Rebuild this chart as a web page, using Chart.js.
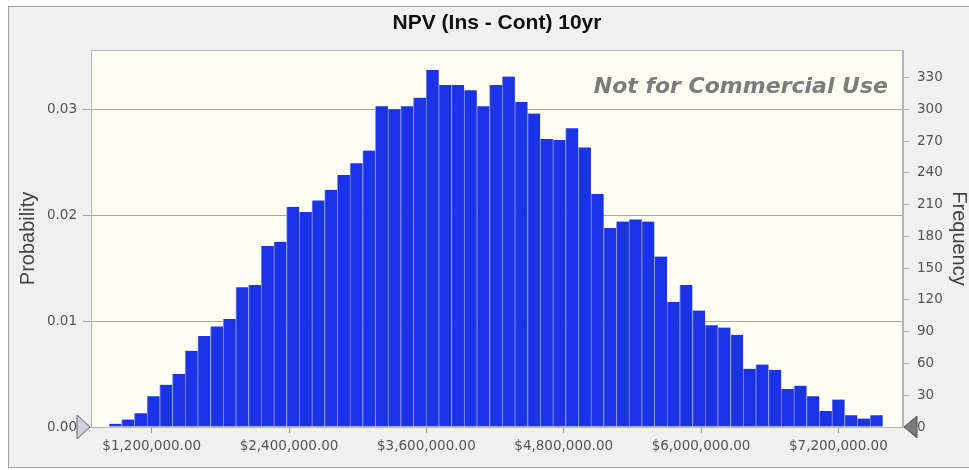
<!DOCTYPE html>
<html>
<head>
<meta charset="utf-8">
<script src="https://cdn.jsdelivr.net/npm/chart.js@4.4.1/dist/chart.umd.min.js"></script>
<style>
  html, body { margin: 0; padding: 0; background: #fff; }
  #wrap { width: 969px; height: 470px; }
</style>
</head>
<body>
<div id="wrap"><canvas id="npvChart" width="969" height="470"></canvas></div>
<script>
// Histogram bins (NPV in $): first bin edge and bin width
const binStart = 826850;
const binWidth = 110830;

// Frequency per bin (10,000 trials)
const frequencies = [
  3, 7, 13, 29, 40, 50, 72, 86, 95, 102,
  132, 134, 171, 175, 208, 203, 214, 224, 238, 249,
  261, 303, 300, 303, 311, 337, 323, 323, 318, 303,
  323, 331, 307, 296, 272, 271, 282, 264, 220, 188,
  194, 196, 194, 161, 118, 134, 110, 96, 94, 87,
  55, 59, 54, 36, 39, 29, 15, 26, 11, 8, 11
];
const trials = 10000;

// Axis ticks
const xTicks = [1200000, 2400000, 3600000, 4800000, 6000000, 7200000];
const probTicks = [0, 0.01, 0.02, 0.03];
const freqTicks = [0, 30, 60, 90, 120, 150, 180, 210, 240, 270, 300, 330];

const xMin = 669500, xMax = 7765000;
const freqMax = 356;

const tickFont = {family: 'DejaVu Sans', size: 13.5};
const labelColor = '#555';

function fmtMoney(v) {
    return '$' + v.toFixed(2).replace(/\B(?=(\d{3})+(?!\d))/g, ',');
}

const points = frequencies.map((f, i) => ({x: binStart + binWidth * (i + 0.5), y: f}));

// Frame, plot background, title, watermark and the two grabbers
const decorations = {
    id: 'decorations',
    beforeDraw(chart) {
        const {ctx, chartArea: a} = chart;
        ctx.save();
        ctx.fillStyle = '#fff';
        ctx.fillRect(0, 0, chart.width, chart.height);
        ctx.fillStyle = '#f0f0f0';
        ctx.fillRect(8, 6, chart.width - 8, 462);
        ctx.strokeStyle = '#a0a0a0';
        ctx.lineWidth = 1;
        ctx.strokeRect(8.5, 6.5, chart.width, 461);
        ctx.fillStyle = '#fefef3';
        ctx.fillRect(a.left, a.top, a.right - a.left, a.bottom - a.top);
        ctx.restore();
    },
    afterDatasetsDraw(chart) {
        const {ctx, chartArea: a} = chart;
        ctx.save();
        ctx.strokeStyle = '#b4b4b4';
        ctx.lineWidth = 1;
        ctx.strokeRect(a.left + 0.5, a.top + 0.5, a.right - a.left - 1, a.bottom - a.top);
        ctx.fillStyle = '#7c7c7c';
        ctx.font = 'italic bold 22px "DejaVu Sans"';
        ctx.textAlign = 'right';
        ctx.textBaseline = 'alphabetic';
        ctx.fillText('Not for Commercial Use', a.right - 15, 93);
        ctx.restore();
    },
    afterDraw(chart) {
        const {ctx, chartArea: a} = chart;
        ctx.save();
        ctx.fillStyle = '#111';
        ctx.font = 'bold 21px "Liberation Sans"';
        ctx.textAlign = 'center';
        ctx.textBaseline = 'alphabetic';
        ctx.fillText('NPV (Ins - Cont) 10yr', (a.left + a.right) / 2, 29);

        // left grabber
        ctx.beginPath();
        ctx.moveTo(a.left - 14, a.bottom - 12);
        ctx.lineTo(a.left - 1, a.bottom);
        ctx.lineTo(a.left - 14, a.bottom + 12);
        ctx.closePath();
        ctx.fillStyle = '#cfcfdc';
        ctx.fill();
        ctx.strokeStyle = '#666';
        ctx.stroke();
        // right grabber
        ctx.beginPath();
        ctx.moveTo(a.right + 14, a.bottom - 11);
        ctx.lineTo(a.right + 1, a.bottom);
        ctx.lineTo(a.right + 14, a.bottom + 11);
        ctx.closePath();
        ctx.fillStyle = '#7a7a7a';
        ctx.fill();
        ctx.strokeStyle = '#555';
        ctx.stroke();
        ctx.restore();
    }
};

new Chart(document.getElementById('npvChart'), {
    type: 'bar',
    data: {
        datasets: [{
            data: points,
            yAxisID: 'y2',
            backgroundColor: '#1b33e6',
            borderColor: '#8a93dc',
            borderWidth: {left: 1, top: 0, right: 0, bottom: 0},
            barPercentage: 1,
            categoryPercentage: 1
        }]
    },
    options: {
        responsive: false,
        animation: false,
        layout: {padding: {top: 50, left: 0, right: 0, bottom: 0}},
        plugins: {
            legend: {display: false},
            tooltip: {enabled: false},
            title: {display: false}
        },
        scales: {
            x: {
                type: 'linear',
                min: xMin,
                max: xMax,
                offset: false,
                afterBuildTicks: s => { s.ticks = xTicks.map(v => ({value: v})); },
                afterFit: s => { s.height = 43; },
                grid: {offset: false, drawOnChartArea: false, drawTicks: true, tickLength: 6, color: '#9a9a9a'},
                border: {color: '#b4b4b4'},
                ticks: {callback: v => fmtMoney(v), font: tickFont, color: labelColor, padding: 5, maxRotation: 0, autoSkip: false}
            },
            y: {
                position: 'left',
                min: 0,
                max: freqMax / trials,
                afterBuildTicks: s => { s.ticks = probTicks.map(v => ({value: v})); },
                afterFit: s => { s.width = 91; },
                grid: {color: '#a9a597', tickLength: 8},
                border: {color: '#b4b4b4'},
                ticks: {callback: v => v.toFixed(2), font: tickFont, color: labelColor, padding: 6},
                title: {display: true, text: 'Probability', color: '#444',
                        font: {family: 'Liberation Sans', size: 20, lineHeight: 1}, padding: {top: 18, bottom: 0}}
            },
            y2: {
                position: 'right',
                min: 0,
                max: freqMax,
                afterBuildTicks: s => { s.ticks = freqTicks.map(v => ({value: v})); },
                afterFit: s => { s.width = 66; },
                grid: {drawOnChartArea: false, tickLength: 6, color: '#b0b0b0'},
                border: {color: '#b4b4b4'},
                ticks: {callback: v => String(v), font: tickFont, color: labelColor, padding: 8},
                title: {display: true, text: 'Frequency', color: '#444',
                        font: {family: 'Liberation Sans', size: 20, lineHeight: 1}, padding: {top: 0, bottom: 0}}
            }
        }
    },
    plugins: [decorations]
});
</script>
</body>
</html>
